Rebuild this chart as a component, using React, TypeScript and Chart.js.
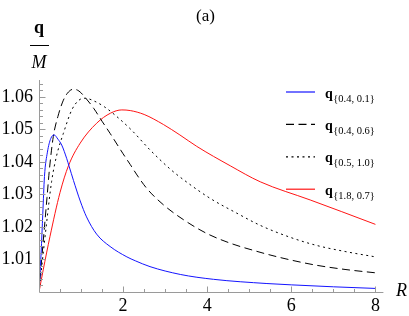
import React, { useEffect, useRef } from "react";
import { Chart, registerables } from "chart.js";

Chart.register(...registerables);

// ---- Data ----
const blueR = [0, 0.02, 0.05, 0.09, 0.13, 0.2, 0.28, 0.36, 0.45, 0.54, 0.66, 0.72, 0.82, 0.98, 1.13, 1.37, 1.69, 2.09, 2.29, 2.64, 3.36, 4.15, 5.42, 6.0, 7.0, 8.0];
const blueQ = [1.0, 1.0045, 1.012, 1.024, 1.0355, 1.043, 1.0472, 1.0483, 1.047, 1.0452, 1.041, 1.0385, 1.0343, 1.028, 1.0231, 1.0178, 1.014, 1.0108, 1.0096, 1.0078, 1.0054, 1.0039, 1.0026, 1.0022, 1.0016, 1.0011];

const dashR = [0, 0.05, 0.13, 0.19, 0.25, 0.34, 0.45, 0.58, 0.7, 0.82, 0.95, 1.1, 1.3, 1.5, 1.69, 2.0, 2.17, 2.33, 2.56, 2.96, 3.44, 3.99, 4.55, 5.18, 5.46, 6.0, 6.61, 7.3, 8.0];
const dashQ = [1.0, 1.008, 1.02, 1.029, 1.038, 1.0478, 1.054, 1.059, 1.0615, 1.0624, 1.0618, 1.0598, 1.0565, 1.0525, 1.0488, 1.0425, 1.0392, 1.036, 1.0319, 1.0268, 1.0222, 1.018, 1.015, 1.0125, 1.0115, 1.0098, 1.0082, 1.0069, 1.0059];

const dotR = [0, 0.05, 0.17, 0.3, 0.42, 0.58, 0.78, 0.95, 1.1, 1.3, 1.55, 1.8, 2.2, 2.64, 3.12, 3.44, 4.07, 4.71, 5.26, 6.0, 6.61, 7.3, 8.0];
const dotQ = [1.0, 1.006, 1.02, 1.034, 1.042, 1.0488, 1.056, 1.059, 1.0596, 1.0588, 1.057, 1.0545, 1.0498, 1.0437, 1.0378, 1.0345, 1.0288, 1.0242, 1.0205, 1.0167, 1.0143, 1.0124, 1.0108];

const redR = [0, 0.1, 0.26, 0.5, 0.7, 0.98, 1.37, 1.7, 1.97, 2.17, 2.5, 2.96, 3.35, 3.75, 4.55, 5.26, 6.45, 7.2, 8.0];
const redQ = [1.0, 1.0068, 1.017, 1.0306, 1.0388, 1.0458, 1.0519, 1.055, 1.056, 1.0558, 1.0546, 1.0515, 1.0483, 1.0448, 1.0388, 1.0339, 1.0283, 1.0247, 1.0208];

const legendSubs = ["{0.4, 0.1}", "{0.4, 0.6}", "{0.5, 1.0}", "{1.8, 0.7}"];
const seriesColors = ["#1414ff", "#000000", "#000000", "#ff1414"];
const seriesDashes: number[][] = [[], [8, 4.5], [2, 3.5], []];

const xMajorTicks = [2, 4, 6, 8];
const xMinorTicks = [0.5, 1, 1.5, 2.5, 3, 3.5, 4.5, 5, 5.5, 6.5, 7, 7.5];
const yMajorTicks = [1.01, 1.02, 1.03, 1.04, 1.05, 1.06];
const yMinorTicks = [1.002, 1.004, 1.006, 1.008, 1.012, 1.014, 1.016, 1.018, 1.022, 1.024, 1.026, 1.028, 1.032, 1.034, 1.036, 1.038, 1.042, 1.044, 1.046, 1.048, 1.052, 1.054, 1.056, 1.058, 1.062, 1.064];

const SERIF = '"Liberation Serif", "Times New Roman", serif';

const pts = (xs: number[], ys: number[]) => xs.map((x, i) => ({ x, y: ys[i] }));

const decorPlugin = {
  id: "decor",
  afterDraw(chart: any) {
    const { ctx, scales } = chart;
    const xs = scales.x;
    const ys = scales.y;
    ctx.save();
    // axes
    const ax = Math.round(xs.getPixelForValue(0)) + 0.5;
    const ay = Math.round(ys.getPixelForValue(1.0)) + 0.5;
    ctx.strokeStyle = "#9a9a9a";
    ctx.lineWidth = 1;
    ctx.setLineDash([]);
    ctx.beginPath();
    ctx.moveTo(ax, ys.top);
    ctx.lineTo(ax, ay);
    ctx.lineTo(xs.right, ay);
    ctx.stroke();
    // inward ticks
    ctx.beginPath();
    xMajorTicks.forEach((v) => {
      const p = Math.round(xs.getPixelForValue(v)) + 0.5;
      ctx.moveTo(p, ay);
      ctx.lineTo(p, ay - 6);
    });
    xMinorTicks.forEach((v) => {
      const p = Math.round(xs.getPixelForValue(v)) + 0.5;
      ctx.moveTo(p, ay);
      ctx.lineTo(p, ay - 3.5);
    });
    yMajorTicks.forEach((v) => {
      const p = Math.round(ys.getPixelForValue(v)) + 0.5;
      ctx.moveTo(ax, p);
      ctx.lineTo(ax + 6, p);
    });
    yMinorTicks.forEach((v) => {
      const p = Math.round(ys.getPixelForValue(v)) + 0.5;
      ctx.moveTo(ax, p);
      ctx.lineTo(ax + 3.5, p);
    });
    ctx.stroke();

    // title
    ctx.fillStyle = "#000";
    ctx.font = `17px ${SERIF}`;
    ctx.textAlign = "center";
    ctx.textBaseline = "alphabetic";
    ctx.fillText("(a)", 205.5, 21);

    // y label: q / M
    ctx.font = `bold 18px ${SERIF}`;
    ctx.fillText("q", 39, 33);
    ctx.fillRect(30, 45, 19, 1);
    ctx.font = `italic 18px ${SERIF}`;
    ctx.fillText("M", 39, 68);

    // x label R
    ctx.textAlign = "left";
    ctx.fillText("R", 396, 296);

    // legend
    legendSubs.forEach((sub, i) => {
      const yc = 92 + i * 32.4;
      ctx.strokeStyle = seriesColors[i];
      ctx.lineWidth = 1.2;
      ctx.setLineDash(seriesDashes[i]);
      ctx.beginPath();
      ctx.moveTo(286, yc);
      ctx.lineTo(315, yc);
      ctx.stroke();
      ctx.setLineDash([]);
      ctx.fillStyle = "#000";
      ctx.textAlign = "left";
      ctx.font = `bold 14px ${SERIF}`;
      ctx.fillText("q", 325, yc + 5.5);
      const w = ctx.measureText("q").width;
      ctx.font = `10.5px ${SERIF}`;
      ctx.fillText(sub, 325 + w + 0.5, yc + 9.5);
    });
    ctx.restore();
  },
};

export default function App() {
  const ref = useRef<HTMLCanvasElement | null>(null);

  useEffect(() => {
    if (!ref.current) return;
    const common = {
      borderWidth: 1,
      pointRadius: 0,
      fill: false,
      cubicInterpolationMode: "monotone" as const,
    };
    const series = [pts(blueR, blueQ), pts(dashR, dashQ), pts(dotR, dotQ), pts(redR, redQ)];
    const chart = new Chart(ref.current, {
      type: "line",
      data: {
        datasets: series.map((data, i) => ({
          ...common,
          data,
          borderColor: seriesColors[i],
          borderDash: seriesDashes[i],
        })),
      },
      options: {
        responsive: false,
        maintainAspectRatio: false,
        animation: false,
        devicePixelRatio: 1,
        events: [],
        layout: { padding: { top: 80, right: 25.6, left: 0, bottom: 0 } },
        plugins: { legend: { display: false }, tooltip: { enabled: false }, title: { display: false } },
        scales: {
          x: {
            type: "linear",
            min: 0,
            max: 8.19,
            grid: { display: false, drawTicks: false },
            border: { display: false },
            afterBuildTicks: (s: any) => {
              s.ticks = xMajorTicks.map((v) => ({ value: v }));
            },
            afterFit: (s: any) => {
              s.height = 24;
            },
            ticks: {
              autoSkip: false,
              maxRotation: 0,
              padding: 3,
              color: "#000",
              font: { family: SERIF, size: 18 },
              callback: (v: any) => String(v),
            },
          },
          y: {
            type: "linear",
            min: 1.0,
            max: 1.0652,
            grid: { display: false, drawTicks: false },
            border: { display: false },
            afterBuildTicks: (s: any) => {
              s.ticks = yMajorTicks.map((v) => ({ value: v }));
            },
            afterFit: (s: any) => {
              s.width = 39;
            },
            ticks: {
              autoSkip: false,
              padding: 6,
              color: "#000",
              font: { family: SERIF, size: 18 },
              callback: (v: any) => Number(v).toFixed(2),
            },
          },
        },
      },
      plugins: [decorPlugin],
    });
    return () => chart.destroy();
  }, []);

  return (
    <div style={{ position: "fixed", left: 0, top: 0, width: 409, height: 316, background: "#fff" }}>
      <canvas ref={ref} width={409} height={316} style={{ display: "block", width: 409, height: 316 }} />
    </div>
  );
}
